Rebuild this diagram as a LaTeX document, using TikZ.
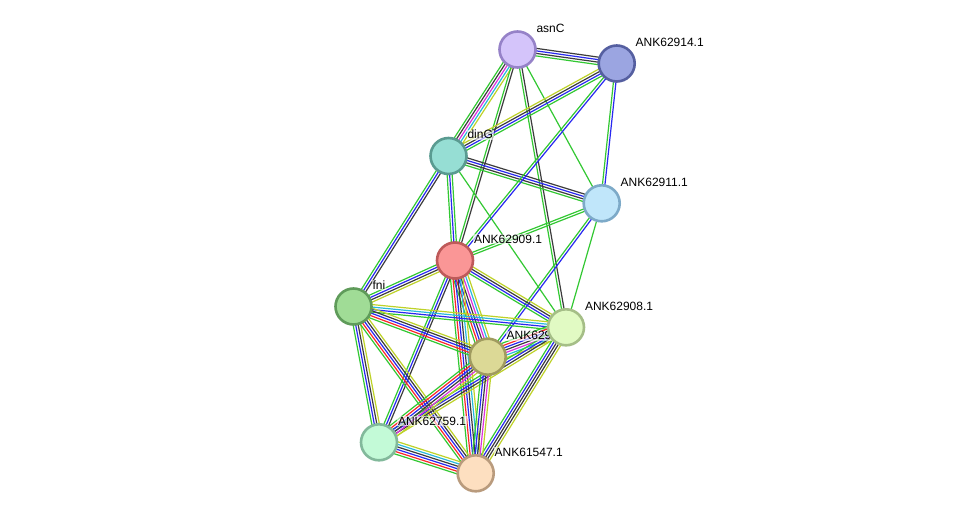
\documentclass[tikz,border=0pt]{standalone}
\usepackage{fontspec}
\setmainfont{Liberation Sans}
\usetikzlibrary{calc,backgrounds}
\definecolor{sgreen}{RGB}{50,200,50}
\definecolor{sblue}{RGB}{40,40,240}
\definecolor{sblack}{RGB}{60,60,60}
\definecolor{sred}{RGB}{250,40,40}
\definecolor{smag}{RGB}{220,50,220}
\definecolor{scyan}{RGB}{40,185,220}
\definecolor{syel}{RGB}{190,210,40}
\tikzset{
  prot/.style={circle, minimum size=36pt, inner sep=0pt, line width=2.6pt},
  lbl/.style={anchor=base west, font=\fontsize{12}{14}\selectfont, inner sep=0.8pt,
    fill=white, fill opacity=0.6, text opacity=1},
  eline/.style={line width=1.2pt}
}
\newcommand{\sedge}[3]{%
  \foreach \cc [count=\ii] in {#3} {\xdef\nnn{\ii}}%
  \foreach \cc [count=\ii] in {#3} {%
    \pgfmathsetmacro\off{(\ii-(\nnn+1)/2)*2.5}%
    \draw[eline, \cc] ($(#1)!\off pt!90:(#2)$) -- ($(#2)!\off pt!-90:(#1)$);%
  }%
}
\begin{document}
\begin{tikzpicture}[x=1pt,y=-1pt]
\useasboundingbox (0,0) rectangle (975,519);
% nodes
\node[prot, fill={rgb,255:red,212;green,196;blue,250}, draw={rgb,255:red,150;green,130;blue,200}] (asnC) at (517.5,49.5) {};
\node[prot, fill={rgb,255:red,155;green,165;blue,225}, draw={rgb,255:red,85;green,95;blue,160}] (k914) at (616.7,63.5) {};
\node[prot, fill={rgb,255:red,150;green,222;blue,212}, draw={rgb,255:red,90;green,155;blue,145}] (dinG) at (448.5,156) {};
\node[prot, fill={rgb,255:red,192;green,230;blue,250}, draw={rgb,255:red,125;green,170;blue,200}] (k911) at (601.7,203.3) {};
\node[prot, fill={rgb,255:red,250;green,150;blue,150}, draw={rgb,255:red,190;green,90;blue,90}] (k909) at (455,260.5) {};
\node[prot, fill={rgb,255:red,160;green,220;blue,150}, draw={rgb,255:red,95;green,155;blue,90}] (fni) at (353.5,306.5) {};
\node[prot, fill={rgb,255:red,220;green,217;blue,150}, draw={rgb,255:red,160;green,155;blue,95}] (k910) at (487.7,356.7) {};
\node[prot, fill={rgb,255:red,225;green,250;blue,195}, draw={rgb,255:red,165;green,190;blue,135}] (k908) at (566,327.3) {};
\node[prot, fill={rgb,255:red,195;green,250;blue,215}, draw={rgb,255:red,130;green,185;blue,155}] (k759) at (379,442.3) {};
\node[prot, fill={rgb,255:red,253;green,223;blue,192}, draw={rgb,255:red,185;green,155;blue,125}] (k547) at (475.7,473.3) {};
\begin{pgfonlayer}{background}
\fill[white] (0,0) rectangle (975,519);
% edges
\sedge{asnC}{k914}{sgreen,sblack,sblue,sblack}
\sedge{asnC}{dinG}{sgreen,sblack,smag,scyan,syel}
\sedge{asnC}{k909}{sgreen,sblack}
\sedge{asnC}{k908}{sgreen,sblack}
\sedge{asnC}{k911}{sgreen}
\sedge{dinG}{k914}{sgreen,sblue,sblack,syel}
\sedge{dinG}{k911}{sgreen,sblack,sblue,sblack}
\sedge{dinG}{fni}{sgreen,sblue,sblack}
\sedge{dinG}{k909}{sgreen,sblue,sgreen}
\sedge{dinG}{k908}{sgreen}
\sedge{k914}{k911}{sgreen,sblue}
\sedge{k914}{k909}{sgreen,sblue}
\sedge{k911}{k909}{sgreen,sgreen}
\sedge{k911}{k908}{sgreen}
\sedge{k911}{k910}{sgreen,sblue}
\sedge{k909}{fni}{sgreen,sblue,sblack,syel}
\sedge{k909}{k908}{sgreen,sblue,sblack,syel}
\sedge{k909}{k910}{sgreen,sred,sblue,sblack,smag,scyan,syel}
\sedge{k909}{k547}{sgreen,sred,sblue,sblack,scyan,syel}
\sedge{k909}{k759}{sgreen,sblue,sblack}
\sedge{fni}{k908}{sgreen,sblue,scyan,syel}
\sedge{fni}{k910}{sgreen,sred,sblue,sblack,syel}
\sedge{fni}{k759}{sgreen,sblue,sblack,syel}
\sedge{fni}{k547}{sgreen,sred,sblue,sblack,syel}
\sedge{k908}{k910}{sgreen,sred,sblue,sblack,smag,scyan,syel}
\sedge{k908}{k759}{sgreen,sblue,sblack,syel}
\sedge{k908}{k547}{sgreen,sblue,sblack,sblack,syel}
\sedge{k910}{k759}{sgreen,sred,sblue,sblack,smag,syel}
\sedge{k910}{k547}{sgreen,sblue,sblack,smag,syel}
\sedge{k759}{k547}{sgreen,sred,sblue,sblack,scyan,syel}
% labels
\node[lbl] (lasnC) at ([xshift=18pt,yshift=17pt]asnC) {asnC};
\node[lbl] (l914) at ([xshift=18pt,yshift=17pt]k914) {ANK62914.1};
\node[lbl] (ldinG) at ([xshift=18pt,yshift=17pt]dinG) {dinG};
\node[lbl] (l911) at ([xshift=18pt,yshift=17pt]k911) {ANK62911.1};
\node[lbl] (l909) at ([xshift=18pt,yshift=17pt]k909) {ANK62909.1};
\node[lbl] (lfni) at ([xshift=18pt,yshift=17pt]fni) {fni};
\node[lbl] (l910) at ([xshift=18pt,yshift=17pt]k910) {ANK62910.1};
\node[lbl] (l908) at ([xshift=18pt,yshift=17pt]k908) {ANK62908.1};
\node[lbl] (l759) at ([xshift=18pt,yshift=17pt]k759) {ANK62759.1};
\node[lbl] (l547) at ([xshift=18pt,yshift=17pt]k547) {ANK61547.1};
\end{pgfonlayer}
\end{tikzpicture}
\end{document}
